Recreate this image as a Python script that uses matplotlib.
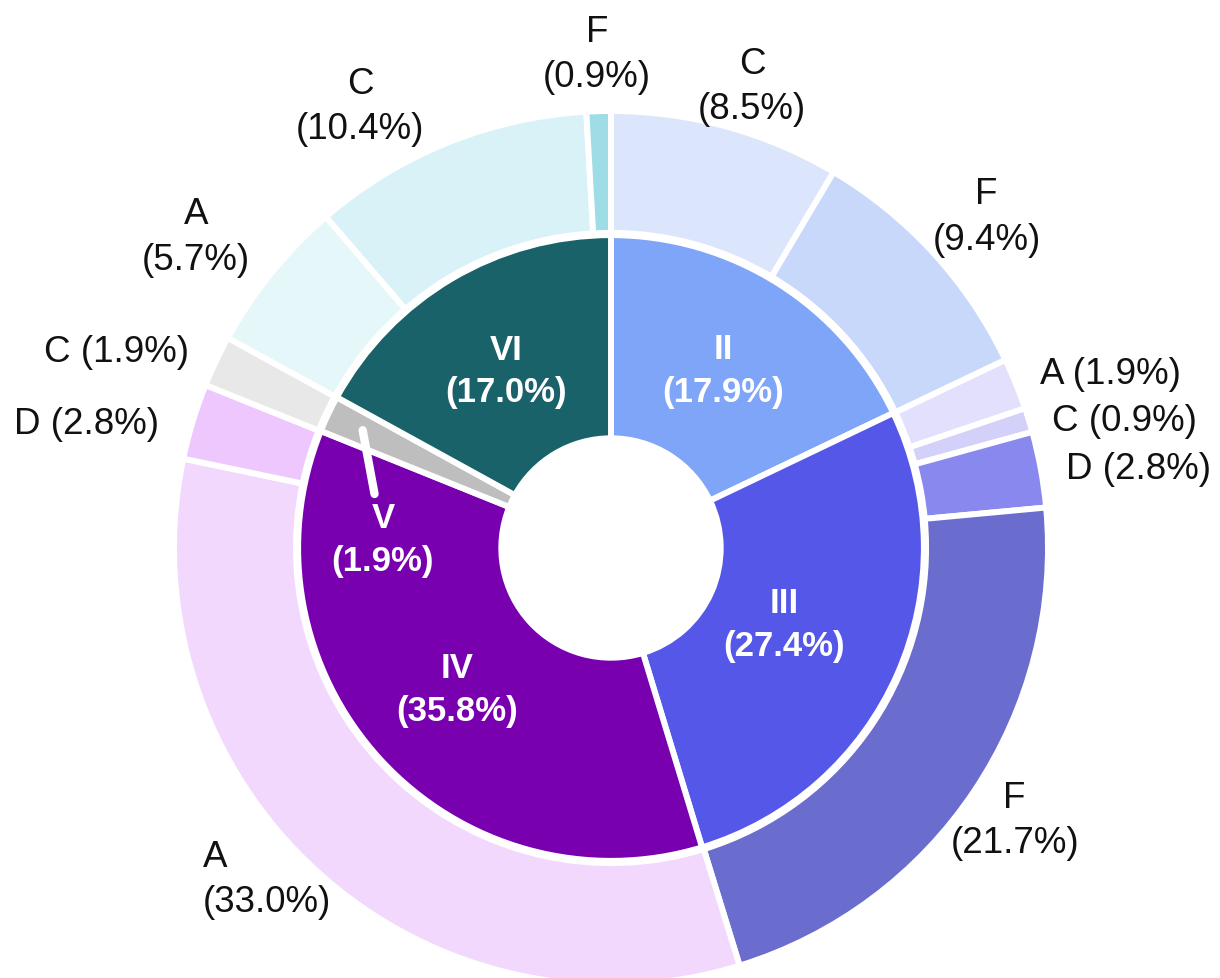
import numpy as np
import matplotlib
matplotlib.use("Agg")
import matplotlib.pyplot as plt

plt.rcParams['font.family'] = ['Liberation Sans', 'DejaVu Sans']

# inner ring: groups
inner_names = ["II", "III", "IV", "V", "VI"]
inner_vals = [17.9, 27.4, 35.8, 1.9, 17.0]
inner_colors = ["#7ea5f7", "#5457e8", "#7800ae", "#bebebe", "#1a626a"]

# outer ring: sub-categories per group (clockwise from top)
outer_names = ["C", "F", "A", "C", "D", "F", "A", "D", "C", "A", "C", "F"]
outer_vals = [8.5, 9.4, 1.9, 0.9, 2.8, 21.7, 33.0, 2.8, 1.9, 5.7, 10.4, 0.9]
outer_colors = ["#dbe6fd", "#c8d8fb",
                "#e2e0fc", "#d3d0f9", "#8888ee", "#6a6dcd",
                "#f2d8fd", "#edc7fd",
                "#e8e8e8",
                "#e6f7fa", "#d9f2f7", "#9edde5"]

# label layout (radius, angle nudge in deg, single line?)
outer_lab_r = [1.105, 1.146, 1.210, 1.210, 1.221, 1.114, 1.092, 1.234, 1.217, 1.187, 1.163, 1.131]
outer_lab_dt = [-1.7, -1.0, -2.8, -3.1, -1.8, -0.2, -3.8, 3.55, 3.6, 2.1, 7.6, 0.0]
outer_one_line = [False, False, True, True, True, False, False, True, True, False, False, False]
inner_lab_r = [0.482, 0.432, 0.478, None, 0.472]

fig = plt.figure(figsize=(12.2, 9.79), dpi=100)
ax = fig.add_axes([0, 0, 1, 1])

wp = dict(edgecolor='white', linewidth=4.3)
w_out, _ = ax.pie(outer_vals, radius=1.0, colors=outer_colors, startangle=90,
                  counterclock=False, wedgeprops=dict(width=0.279, **wp))
w_in, _ = ax.pie(inner_vals, radius=0.716, colors=inner_colors, startangle=90,
                 counterclock=False, wedgeprops=dict(width=0.465, **wp))

# outer labels
for w, name, v, r, dt, one in zip(w_out, outer_names, outer_vals,
                                  outer_lab_r, outer_lab_dt, outer_one_line):
    ang = np.deg2rad((w.theta1 + w.theta2) / 2 + dt)
    sep = " " if one else "\n"
    ma = 'left' if name == "A" and v == 33.0 else 'center'
    ax.text(r * np.cos(ang), r * np.sin(ang), f"{name}{sep}({v:.1f}%)",
            ha='center', va='center', multialignment=ma, linespacing=1.38,
            fontsize=26.5, color='#111111')

# inner labels
for w, name, v, r in zip(w_in, inner_names, inner_vals, inner_lab_r):
    if r is None:
        continue
    ang = np.deg2rad((w.theta1 + w.theta2) / 2)
    ax.text(r * np.cos(ang), r * np.sin(ang), f"{name}\n({v:.1f}%)",
            ha='center', va='center', fontsize=25, fontweight='bold',
            color='white', linespacing=1.38)

# small V slice, label with leader line
wv = w_in[3]
ang = np.deg2rad((wv.theta1 + wv.theta2) / 2)
ax.annotate(f"{inner_names[3]}\n({inner_vals[3]:.1f}%)",
            xy=(0.629 * np.cos(ang), 0.629 * np.sin(ang)), xytext=(-0.522, 0.021),
            ha='center', va='center', fontsize=25, fontweight='bold', color='white',
            linespacing=1.38,
            arrowprops=dict(arrowstyle='-', color='white', lw=6, shrinkA=3, shrinkB=0))

ax.set_xlim(-611 / 437, 609 / 437)
ax.set_ylim(-430 / 437, 549 / 437)
ax.set_aspect('equal')
ax.axis('off')

fig.savefig("out.png", dpi=100)
